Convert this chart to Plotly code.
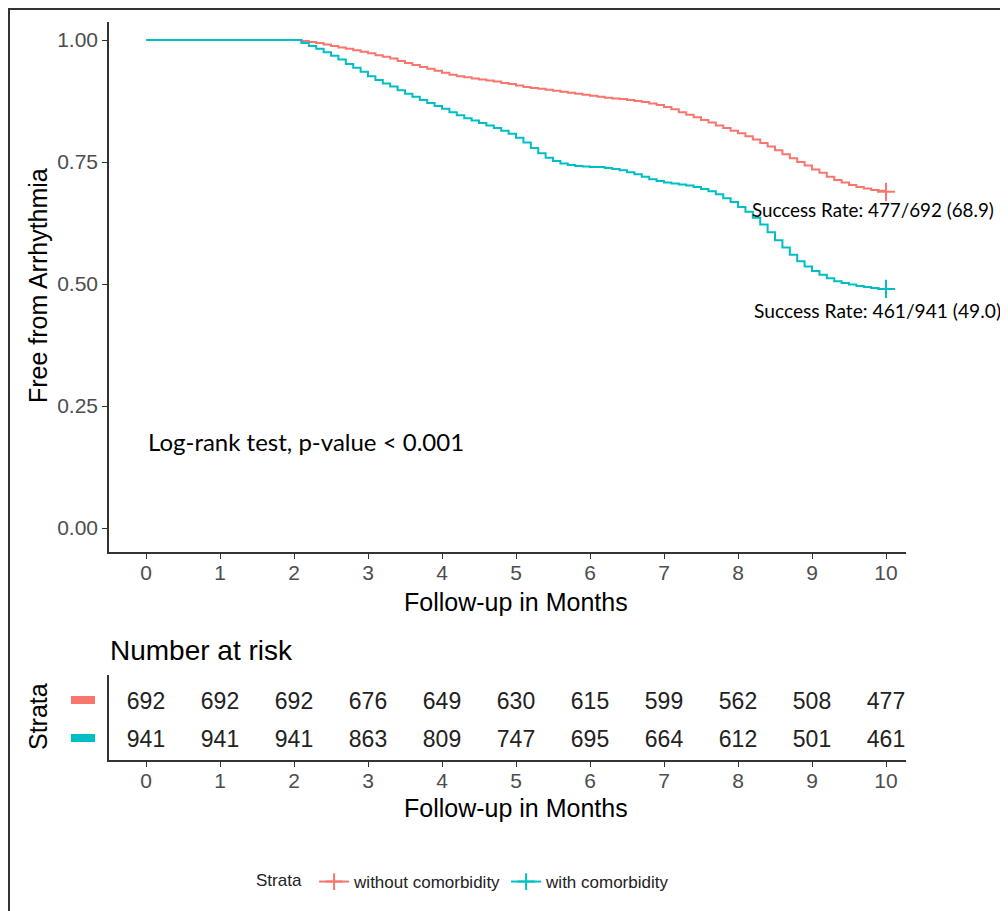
import plotly.graph_objects as go

# ---- data ----
t_without = [0, 2.0, 2.1, 2.2, 2.3, 2.4, 2.5, 2.6, 2.7, 2.8, 2.9, 3.0, 3.1, 3.2, 3.3, 3.4, 3.5,
             3.6, 3.7, 3.8, 3.9, 4.0, 4.1, 4.2, 4.3, 4.4, 4.5, 4.6, 4.7, 4.8, 4.9, 5.0, 5.1,
             5.2, 5.3, 5.4, 5.5, 5.6, 5.7, 5.8, 5.9, 6.0, 6.1, 6.2, 6.3, 6.4, 6.5, 6.6, 6.7,
             6.8, 6.9, 7.0, 7.1, 7.2, 7.3, 7.4, 7.5, 7.6, 7.7, 7.8, 7.9, 8.0, 8.1, 8.2, 8.3,
             8.4, 8.5, 8.6, 8.7, 8.8, 8.9, 9.0, 9.1, 9.2, 9.3, 9.4, 9.5, 9.6, 9.7, 9.8, 9.9,
             10.0]
s_without = [1.000, 1.000, 0.998, 0.996, 0.994, 0.991, 0.988, 0.985, 0.982, 0.979, 0.976,
             0.973, 0.969, 0.966, 0.962, 0.957, 0.953, 0.949, 0.945, 0.941, 0.937, 0.933,
             0.929, 0.926, 0.924, 0.921, 0.919, 0.917, 0.915, 0.912, 0.910, 0.907, 0.904,
             0.902, 0.900, 0.898, 0.896, 0.894, 0.892, 0.890, 0.888, 0.886, 0.884, 0.882,
             0.880, 0.879, 0.877, 0.875, 0.873, 0.870, 0.867, 0.863, 0.858, 0.852, 0.847,
             0.842, 0.836, 0.831, 0.825, 0.820, 0.814, 0.809, 0.803, 0.796, 0.789, 0.782,
             0.774, 0.766, 0.758, 0.750, 0.743, 0.735, 0.728, 0.720, 0.713, 0.708, 0.703,
             0.699, 0.696, 0.693, 0.691, 0.689]
t_with = list(t_without)
s_with = [1.000, 1.000, 0.994, 0.988, 0.982, 0.975, 0.968, 0.960, 0.951, 0.943, 0.935,
          0.926, 0.918, 0.911, 0.905, 0.897, 0.890, 0.884, 0.877, 0.871, 0.865, 0.859,
          0.852, 0.846, 0.840, 0.835, 0.830, 0.825, 0.820, 0.814, 0.808, 0.800, 0.790,
          0.779, 0.768, 0.759, 0.752, 0.747, 0.744, 0.742, 0.741, 0.740, 0.740, 0.738,
          0.736, 0.733, 0.729, 0.725, 0.720, 0.715, 0.711, 0.708, 0.706, 0.704, 0.702,
          0.699, 0.695, 0.690, 0.684, 0.676, 0.668, 0.658, 0.648, 0.636, 0.622, 0.606,
          0.590, 0.575, 0.560, 0.547, 0.536, 0.527, 0.519, 0.512, 0.506, 0.502, 0.499,
          0.496, 0.494, 0.492, 0.490, 0.490]

risk_times = [0, 1, 2, 3, 4, 5, 6, 7, 8, 9, 10]
risk_without = [692, 692, 692, 676, 649, 630, 615, 599, 562, 508, 477]
risk_with = [941, 941, 941, 863, 809, 747, 695, 664, 612, 501, 461]

labels = ["without comorbidity", "with comorbidity"]
colors = ["#F8766D", "#00BFC4"]
success_text = ["Success Rate: 477/692 (68.9)", "Success Rate: 461/941 (49.0)"]
pvalue_text = "Log-rank test, p-value < 0.001"

# page body has an 8px margin; figure sized to fit the window
W, H = 1000, 903
OFF = 8
def px(x): return (x - OFF) / W
def py(y): return 1 - (y - OFF) / H

AX = "#333333"
TICK = "#4D4D4D"
FONT = "Liberation Sans, Arial, sans-serif"
CAL = "Lato, Carlito, Calibri, sans-serif"

fig = go.Figure()

curves = [(t_without, s_without), (t_with, s_with)]
for (t, s), lab, col in zip(curves, labels, colors):
    fig.add_trace(go.Scatter(x=t, y=s, mode="lines", line=dict(color=col, width=2, shape="hv"),
                             showlegend=False, xaxis="x", yaxis="y", hoverinfo="skip"))
    fig.add_trace(go.Scatter(x=[t[-1]], y=[s[-1]], mode="markers",
                             marker=dict(symbol="cross-thin", size=13, color=col,
                                         line=dict(color=col, width=2)),
                             showlegend=False, xaxis="x", yaxis="y", hoverinfo="skip"))
    fig.add_trace(go.Scatter(x=[None], y=[None], mode="lines+markers", name=lab,
                             line=dict(color=col, width=2),
                             marker=dict(symbol="cross-thin", size=12, color=col,
                                         line=dict(color=col, width=2)),
                             xaxis="x", yaxis="y"))

for row, vals in zip([2, 1], [risk_without, risk_with]):
    fig.add_trace(go.Scatter(x=risk_times, y=[row] * len(risk_times), mode="text",
                             text=[str(v) for v in vals],
                             textfont=dict(family=FONT, size=23, color="#222222"),
                             showlegend=False, xaxis="x2", yaxis="y2", hoverinfo="skip"))

xdom = [px(109), px(906)]
axis_common = dict(showline=True, linecolor=AX, linewidth=1.5, ticks="outside",
                   tickcolor=AX, ticklen=5, tickwidth=1.3, showgrid=False, zeroline=False,
                   tickfont=dict(family=FONT, size=21, color=TICK))

fig.update_layout(
    width=W, height=H, margin=dict(l=0, r=0, t=0, b=0),
    paper_bgcolor="white", plot_bgcolor="white",
    xaxis=dict(domain=xdom, range=[-0.5, 10.27], tickvals=risk_times, anchor="y",
               ticklabelstandoff=-4, **axis_common),
    yaxis=dict(domain=[py(552), py(22)], range=[-0.049, 1.037],
               tickvals=[0, 0.25, 0.5, 0.75, 1.0],
               ticktext=["0.00", "0.25", "0.50", "0.75", "1.00"], anchor="x",
               **axis_common),
    xaxis2=dict(domain=xdom, range=[-0.5, 10.27], tickvals=risk_times, anchor="y2",
                ticklabelstandoff=-4, **axis_common),
    yaxis2=dict(domain=[py(760), py(675)], range=[0.5, 2.737], anchor="x2",
                showline=True, linecolor=AX, linewidth=1.5, showticklabels=False,
                ticks="", showgrid=False, zeroline=False),
    legend=dict(orientation="h", x=px(254), xanchor="left", y=py(882), yanchor="middle",
                title=dict(text="Strata ", font=dict(family=FONT, size=17, color="#222222")),
                font=dict(family=FONT, size=17, color="#222222"), itemwidth=30,
                bgcolor="rgba(0,0,0,0)"),
)

def A(**kw):
    d = dict(showarrow=False, xanchor="center", yanchor="middle")
    d.update(kw)
    return d

ann = [
    A(x=px(516), y=py(602), xref="paper", yref="paper", text="Follow-up in Months",
      font=dict(family=FONT, size=25, color="black")),
    A(x=px(516), y=py(808), xref="paper", yref="paper", text="Follow-up in Months",
      font=dict(family=FONT, size=25, color="black")),
    A(x=px(38), y=py(286), xref="paper", yref="paper", text="Free from Arrhythmia",
      textangle=-90, font=dict(family=FONT, size=25, color="black")),
    A(x=px(38), y=py(717), xref="paper", yref="paper", text="Strata",
      textangle=-90, font=dict(family=FONT, size=25, color="black")),
    A(x=px(108), y=py(650), xref="paper", yref="paper", text="Number at risk",
      xanchor="left", font=dict(family=FONT, size=28, color="black")),
    A(x=9.83, y=0.652, xref="x", yref="y", text=success_text[0],
      font=dict(family=CAL, size=18.8, color="black")),
    A(x=9.88, y=0.445, xref="x", yref="y", text=success_text[1],
      font=dict(family=CAL, size=19.2, color="black")),
    A(x=0, y=0.178, xref="x", yref="y", text=pvalue_text, xanchor="left",
      font=dict(family=CAL, size=24, color="black")),
]
fig.update_layout(annotations=ann)

shapes = []
for ypix, col in zip([700, 738], colors):
    shapes.append(dict(type="rect", xref="paper", yref="paper", x0=px(71), x1=px(95),
                       y0=py(ypix + 4), y1=py(ypix - 4), fillcolor=col, line=dict(width=0)))
shapes.append(dict(type="rect", xref="paper", yref="paper", x0=px(9), x1=px(1020),
                   y0=py(925), y1=py(9), line=dict(color="#333333", width=2),
                   fillcolor="rgba(0,0,0,0)"))
fig.update_layout(shapes=shapes)

fig.write_html("out.html")
